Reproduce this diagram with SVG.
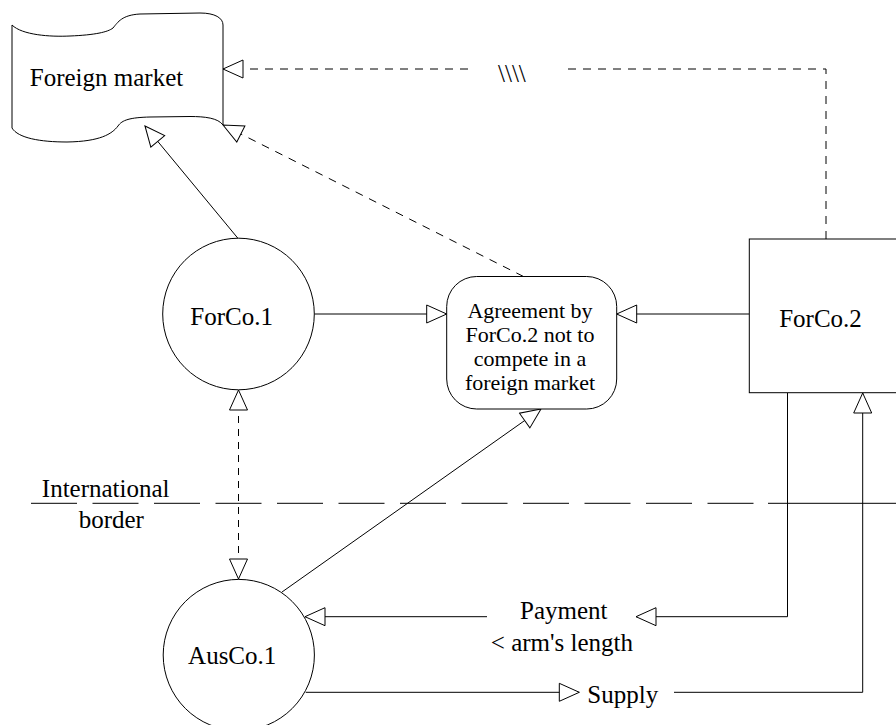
<svg xmlns="http://www.w3.org/2000/svg" width="896" height="725" viewBox="0 0 896 725">
<style>
text{font-family:'Liberation Serif','DejaVu Serif','Noto Serif',serif;font-size:25px;fill:#000}
.t22{font-size:22px}
.shape{fill:#fff;stroke:#000;stroke-width:1}
.ln{fill:none;stroke:#000;stroke-width:1}
.dash{stroke-dasharray:8,7}
.dash2{stroke-dasharray:7,6}
</style>
<defs>
<marker id="tri" viewBox="-1 -10 23 20" refX="20" refY="0" markerWidth="23" markerHeight="20" markerUnits="userSpaceOnUse" orient="auto-start-reverse">
<path d="M20,0 L0,-9 L0,9 Z" fill="#fff" stroke="#000" stroke-width="1"/>
</marker>
</defs>
<g id="connectors">
<line class="ln" x1="238.5" y1="239" x2="145" y2="126" marker-end="url(#tri)"/>
<line class="ln dash" x1="523.5" y1="276.5" x2="223" y2="125" marker-end="url(#tri)"/>
<polyline class="ln dash" points="826,239 826,69 562,69"/>
<line class="ln dash" x1="468" y1="69" x2="223" y2="69" marker-end="url(#tri)"/>
<line class="ln" x1="314.5" y1="314" x2="446.7" y2="314" marker-end="url(#tri)"/>
<line class="ln" x1="749" y1="314" x2="616.7" y2="314" marker-end="url(#tri)"/>
<line class="ln dash2" x1="238.5" y1="390" x2="238.5" y2="579" marker-start="url(#tri)" marker-end="url(#tri)"/>
<line class="ln" x1="282" y1="592" x2="541" y2="409" marker-end="url(#tri)"/>
<polyline class="ln" points="787.5,393 787.5,616.7 636,616.7" marker-end="url(#tri)"/>
<line class="ln" x1="487" y1="616.7" x2="305" y2="616.7" marker-end="url(#tri)"/>
<line class="ln" x1="305.7" y1="692.3" x2="579.3" y2="692.3" marker-end="url(#tri)"/>
<polyline class="ln" points="674,692.3 862.7,692.3 862.7,393" marker-end="url(#tri)"/>
<line class="ln" x1="31" y1="503.3" x2="768" y2="503.3" stroke-dasharray="46,15.5"/>
<line class="ln" x1="768" y1="503.3" x2="896" y2="503.3"/>
<text x="498" y="82" font-family="Liberation Serif, serif">\\\\</text>
</g>
<g id="foreign-market">
<path class="shape" d="M12,25 C22,35 50,37 70,36 C95,35 108,32 113,28 C118,22 122,15 140,14 L200,13 C215,13 223,18 223,25 L223,125 C218,118 205,116.5 190,116.5 L150,117 C130,117.5 122,120 118,126 C112,134 100,141.5 67,142 C40,142 18,138 12,128 Z"/>
<text x="106.5" y="86" text-anchor="middle" font-family="Liberation Serif, serif">Foreign market</text>
</g>
<g id="forco1">
<circle class="shape" cx="238.5" cy="314" r="75.8"/>
<text x="231.7" y="325" text-anchor="middle">ForCo.1</text>
</g>
<g id="agreement">
<rect class="shape" x="446.7" y="276.5" width="170" height="132.5" rx="30" ry="30"/>
<text class="t22" x="530" y="318" text-anchor="middle">Agreement by</text>
<text class="t22" x="530" y="342" text-anchor="middle">ForCo.2 not to</text>
<text class="t22" x="530" y="366" text-anchor="middle">compete in a</text>
<text class="t22" x="530" y="390" text-anchor="middle">foreign market</text>
</g>
<g id="forco2">
<rect class="shape" x="749.3" y="239" width="160" height="153.7"/>
<text x="820.5" y="326.7" text-anchor="middle">ForCo.2</text>
</g>
<g id="ausco1">
<circle class="shape" cx="238.8" cy="655" r="75.6"/>
<text x="232.2" y="664" text-anchor="middle">AusCo.1</text>
</g>
<g id="labels">
<text x="105.7" y="497" text-anchor="middle">International</text>
<text x="111.3" y="528" text-anchor="middle">border</text>
<text x="563.8" y="619" text-anchor="middle">Payment</text>
<text x="633" y="651" text-anchor="end">&lt; arm's length</text>
<text x="587.3" y="702.5">Supply</text>
</g>
</svg>
